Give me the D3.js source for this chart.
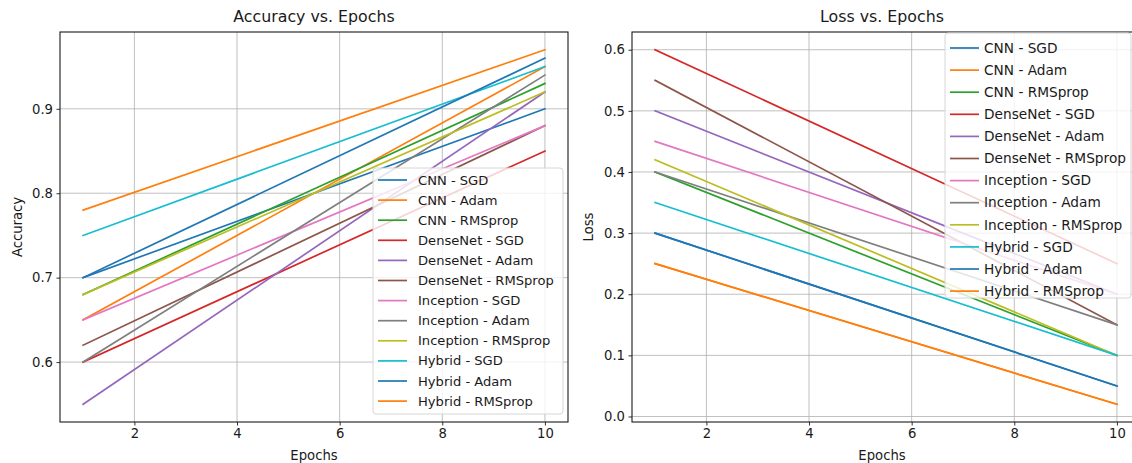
<!DOCTYPE html>
<html>
<head>
<meta charset="utf-8">
<script src="https://cdn.jsdelivr.net/npm/d3@7"></script>
<style>
  body { margin: 0; background: #fff; }
  svg { display: block; font-family: 'DejaVu Sans', sans-serif; }
</style>
</head>
<body>
<div id="chart"></div>
<script>
// epochs shown (lines are straight from first to last epoch)
var epochs = [1, 10];

var seriesNames = [
  'CNN - SGD', 'CNN - Adam', 'CNN - RMSprop',
  'DenseNet - SGD', 'DenseNet - Adam', 'DenseNet - RMSprop',
  'Inception - SGD', 'Inception - Adam', 'Inception - RMSprop',
  'Hybrid - SGD', 'Hybrid - Adam', 'Hybrid - RMSprop'
];

// accuracy at epoch 1 and epoch 10
var accuracy = [
  [0.70, 0.90], [0.65, 0.95], [0.68, 0.93],
  [0.60, 0.85], [0.55, 0.92], [0.62, 0.88],
  [0.65, 0.88], [0.60, 0.94], [0.68, 0.92],
  [0.75, 0.95], [0.70, 0.96], [0.78, 0.97]
];

// loss at epoch 1 and epoch 10
var loss = [
  [0.30, 0.05], [0.25, 0.02], [0.40, 0.10],
  [0.60, 0.25], [0.50, 0.20], [0.55, 0.15],
  [0.45, 0.20], [0.40, 0.15], [0.42, 0.10],
  [0.35, 0.10], [0.30, 0.05], [0.25, 0.02]
];

var xTicks = [2, 4, 6, 8, 10];
var accTicks = [0.6, 0.7, 0.8, 0.9];
var lossTicks = [0.0, 0.1, 0.2, 0.3, 0.4, 0.5, 0.6];

var tab10 = ['#1f77b4', '#ff7f0e', '#2ca02c', '#d62728', '#9467bd',
             '#8c564b', '#e377c2', '#7f7f7f', '#bcbd22', '#17becf'];

var width = 1132, height = 463;

var svg = d3.select('#chart').append('svg')
  .attr('width', width)
  .attr('height', height);

// matplotlib style 5% padding on data range
function padded(lo, hi) {
  var m = (hi - lo) * 0.05;
  return [lo - m, hi + m];
}

function panel(conf) {
  var g = svg.append('g');
  var clipId = 'clip' + conf.id;

  svg.append('defs').append('clipPath').attr('id', clipId)
    .append('rect')
      .attr('x', conf.left).attr('y', conf.top)
      .attr('width', conf.right - conf.left)
      .attr('height', conf.bottom - conf.top);

  var allVals = [].concat.apply([], conf.values);
  var x = d3.scaleLinear().domain(padded(1, 10)).range([conf.left, conf.right]);
  var y = d3.scaleLinear().domain(padded(d3.min(allVals), d3.max(allVals)))
    .range([conf.bottom, conf.top]);

  var plot = g.append('g').attr('clip-path', 'url(#' + clipId + ')');

  // grid
  plot.selectAll('.vgrid').data(conf.xTicks).enter().append('line')
    .attr('x1', function(d){ return x(d); })
    .attr('x2', function(d){ return x(d); })
    .attr('y1', conf.top).attr('y2', conf.bottom)
    .attr('stroke', '#b0b0b0').attr('stroke-width', 0.8);
  plot.selectAll('.hgrid').data(conf.yTicks).enter().append('line')
    .attr('y1', function(d){ return y(d); })
    .attr('y2', function(d){ return y(d); })
    .attr('x1', conf.left).attr('x2', conf.right)
    .attr('stroke', '#b0b0b0').attr('stroke-width', 0.8);

  var line = d3.line()
    .x(function(d, i){ return x(epochs[i]); })
    .y(function(d){ return y(d); });

  plot.selectAll('.series').data(conf.values).enter().append('path')
    .attr('d', line)
    .attr('fill', 'none')
    .attr('stroke', function(d, i){ return tab10[i % 10]; })
    .attr('stroke-width', 1.7)
    .attr('stroke-linecap', 'square');

  // axes
  var xAxis = g.append('g')
    .attr('transform', 'translate(0,' + conf.bottom + ')')
    .call(d3.axisBottom(x).tickValues(conf.xTicks).tickSize(3.5).tickPadding(3.5).tickFormat(d3.format('d')));
  var yAxis = g.append('g')
    .attr('transform', 'translate(' + conf.left + ',0)')
    .call(d3.axisLeft(y).tickValues(conf.yTicks).tickSize(3.5).tickPadding(3.5).tickFormat(d3.format('.1f')));
  [xAxis, yAxis].forEach(function(a){
    a.select('.domain').remove();
    a.selectAll('text').attr('font-size', 13.2).attr('fill', '#1a1a1a')
      .attr('font-family', 'DejaVu Sans, sans-serif');
    a.selectAll('line').attr('stroke', '#1a1a1a').attr('stroke-width', 0.9);
  });

  // frame
  g.append('rect')
    .attr('x', conf.left).attr('y', conf.top)
    .attr('width', conf.right - conf.left)
    .attr('height', conf.bottom - conf.top)
    .attr('fill', 'none').attr('stroke', '#1a1a1a').attr('stroke-width', 1.1);

  // titles
  g.append('text')
    .attr('x', (conf.left + conf.right) / 2 - (conf.titleShift || 0))
    .attr('y', 22)
    .attr('text-anchor', 'middle')
    .attr('font-size', 15.8)
    .attr('fill', '#1a1a1a')
    .text(conf.title);
  g.append('text')
    .attr('x', (conf.left + conf.right) / 2 - (conf.titleShift || 0))
    .attr('y', 460)
    .attr('text-anchor', 'middle')
    .attr('font-size', 13.2)
    .attr('fill', '#1a1a1a')
    .text('Epochs');
  g.append('text')
    .attr('transform', 'translate(' + conf.yLabelX + ',' + ((conf.top + conf.bottom) / 2) + ') rotate(-90)')
    .attr('text-anchor', 'middle')
    .attr('font-size', 13.2)
    .attr('fill', '#1a1a1a')
    .text(conf.yLabel);

  // legend
  var L = conf.legend;
  var leg = g.append('g');
  leg.append('rect')
    .attr('x', L.x).attr('y', L.y)
    .attr('width', L.w).attr('height', L.h)
    .attr('rx', 3)
    .attr('fill', 'rgba(255,255,255,0.8)')
    .attr('stroke', '#d6d6d6');
  var items = leg.selectAll('.item').data(seriesNames).enter().append('g')
    .attr('transform', function(d, i){ return 'translate(' + L.x + ',' + (L.first + i * L.step) + ')'; });
  items.append('line')
    .attr('x1', 5).attr('x2', 5 + L.handle)
    .attr('stroke', function(d, i){ return tab10[i % 10]; })
    .attr('stroke-width', 1.7);
  items.append('text')
    .attr('x', L.textX)
    .attr('dy', '0.35em')
    .attr('font-size', L.font)
    .attr('fill', '#1a1a1a')
    .text(function(d){ return d; });
}

panel({
  id: 'acc', title: 'Accuracy vs. Epochs', yLabel: 'Accuracy', yLabelX: 22,
  left: 60, right: 568, top: 32, bottom: 422,
  values: accuracy, xTicks: xTicks, yTicks: accTicks,
  legend: { x: 373, y: 168, w: 190, h: 246, first: 180, step: 20.1, handle: 29, textX: 45, font: 13.1 }
});

panel({
  id: 'loss', title: 'Loss vs. Epochs', yLabel: 'Loss', yLabelX: 593,
  left: 632, right: 1140, top: 32, bottom: 422, titleShift: 4,
  values: loss, xTicks: xTicks, yTicks: lossTicks,
  legend: { x: 945, y: 33, w: 186, h: 265, first: 48, step: 22.1, handle: 29, textX: 39, font: 13.7 }
});
</script>
</body>
</html>
